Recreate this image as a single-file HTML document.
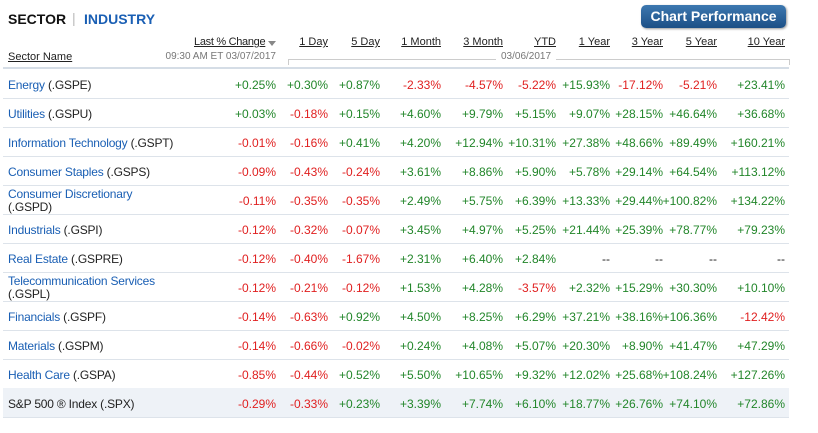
<!DOCTYPE html>
<html><head><meta charset="utf-8"><style>
body{margin:0;width:818px;height:433px;background:#fff;font-family:"Liberation Sans",Arial,sans-serif;position:relative;overflow:hidden}
.a{position:absolute;white-space:nowrap}
.h{font-size:11px;color:#222;text-decoration:underline;top:36px}
.r{text-align:right}
.g{color:#22862a}.d{color:#e02020}
.row{position:absolute;left:3px;width:786px;height:29px;border-bottom:1px solid #dde3ea;font-size:12px;color:#222}
.row span{position:absolute;top:9px;white-space:nowrap}
.row .n{left:5px;letter-spacing:-0.2px}
.row .n2{left:5px;top:3px;line-height:13px;letter-spacing:-0.2px}
.lk{color:#1a5fb4}
</style></head><body>
<div class="a" style="left:8px;top:11px;font-size:14px;font-weight:bold;color:#111">SECTOR</div>
<div class="a" style="left:72px;top:10px;font-size:14px;color:#bbb">|</div>
<div class="a" style="left:84px;top:11px;font-size:14px;font-weight:bold;color:#1a5fb4">INDUSTRY</div>
<div class="a" style="left:641px;top:5px;width:145px;height:23px;border-radius:5px;background:linear-gradient(#3d78b0,#1c4f86);box-shadow:1px 1px 2px #999;color:#fff;font-weight:bold;font-size:14px;text-align:center;line-height:23px">Chart Performance</div>
<div class="a h" style="left:194px;letter-spacing:-0.3px">Last % Change</div>
<div class="a" style="left:268px;top:41px;width:0;height:0;border-left:4px solid transparent;border-right:4px solid transparent;border-top:5px solid #888"></div>
<div class="a h r" style="right:490px">1 Day</div>
<div class="a h r" style="right:438px">5 Day</div>
<div class="a h r" style="right:377px">1 Month</div>
<div class="a h r" style="right:315px">3 Month</div>
<div class="a h r" style="right:262px">YTD</div>
<div class="a h r" style="right:208px">1 Year</div>
<div class="a h r" style="right:155px">3 Year</div>
<div class="a h r" style="right:101px">5 Year</div>
<div class="a h r" style="right:33px">10 Year</div>
<div class="a" style="left:8px;top:51px;font-size:11px;color:#222;text-decoration:underline">Sector Name</div>
<div class="a r" style="right:542px;top:51px;font-size:10px;color:#777">09:30 AM ET 03/07/2017</div>
<div class="a" style="left:288px;top:59px;width:500px;height:5px;border:1px solid #ccc;border-bottom:none"></div>
<div class="a" style="left:496px;top:51px;font-size:10px;color:#777;background:#fff;padding:0 5px">03/06/2017</div>
<div class="a" style="left:3px;top:67px;width:786px;height:2px;background:#d5dde6"></div>
<div id="t"></div>
<script>
var rows=[
["Energy","(.GSPE)",["+0.25%","+0.30%","+0.87%","-2.33%","-4.57%","-5.22%","+15.93%","-17.12%","-5.21%","+23.41%"]],
["Utilities","(.GSPU)",["+0.03%","-0.18%","+0.15%","+4.60%","+9.79%","+5.15%","+9.07%","+28.15%","+46.64%","+36.68%"]],
["Information Technology","(.GSPT)",["-0.01%","-0.16%","+0.41%","+4.20%","+12.94%","+10.31%","+27.38%","+48.66%","+89.49%","+160.21%"]],
["Consumer Staples","(.GSPS)",["-0.09%","-0.43%","-0.24%","+3.61%","+8.86%","+5.90%","+5.78%","+29.14%","+64.54%","+113.12%"]],
["Consumer Discretionary","(.GSPD)",["-0.11%","-0.35%","-0.35%","+2.49%","+5.75%","+6.39%","+13.33%","+29.44%","+100.82%","+134.22%"],1],
["Industrials","(.GSPI)",["-0.12%","-0.32%","-0.07%","+3.45%","+4.97%","+5.25%","+21.44%","+25.39%","+78.77%","+79.23%"]],
["Real Estate","(.GSPRE)",["-0.12%","-0.40%","-1.67%","+2.31%","+6.40%","+2.84%","--","--","--","--"]],
["Telecommunication Services","(.GSPL)",["-0.12%","-0.21%","-0.12%","+1.53%","+4.28%","-3.57%","+2.32%","+15.29%","+30.30%","+10.10%"],1],
["Financials","(.GSPF)",["-0.14%","-0.63%","+0.92%","+4.50%","+8.25%","+6.29%","+37.21%","+38.16%","+106.36%","-12.42%"]],
["Materials","(.GSPM)",["-0.14%","-0.66%","-0.02%","+0.24%","+4.08%","+5.07%","+20.30%","+8.90%","+41.47%","+47.29%"]],
["Health Care","(.GSPA)",["-0.85%","-0.44%","+0.52%","+5.50%","+10.65%","+9.32%","+12.02%","+25.68%","+108.24%","+127.26%"]],
["S&amp;P 500 ® Index","(.SPX)",["-0.29%","-0.33%","+0.23%","+3.39%","+7.74%","+6.10%","+18.77%","+26.76%","+74.10%","+72.86%"],0,1]];
var R=[276,328,380,441,503,556,610,663,717,785];
var h="";
rows.forEach(function(r,i){
 var top=69+i*29;
 h+='<div class="row" style="top:'+top+'px;'+(r[4]?'background:#eef2f7;':'')+'">';
 var nm=r[4]?r[0]:'<span class="lk" style="position:static">'+r[0]+'</span>';
 if(r[3]) h+='<span class="n2">'+nm+'<br>'+r[1]+'</span>';
 else h+='<span class="n">'+nm+' '+r[1]+'</span>';
 r[2].forEach(function(v,j){
  var c=v[0]=='+'?'g':(v[0]=='-'&&v!='--'?'d':'');
  h+='<span class="'+c+'" style="right:'+(789-R[j])+'px">'+v+'</span>';
 });
 h+='</div>';
});
document.getElementById('t').innerHTML=h;
</script>
</body></html>
